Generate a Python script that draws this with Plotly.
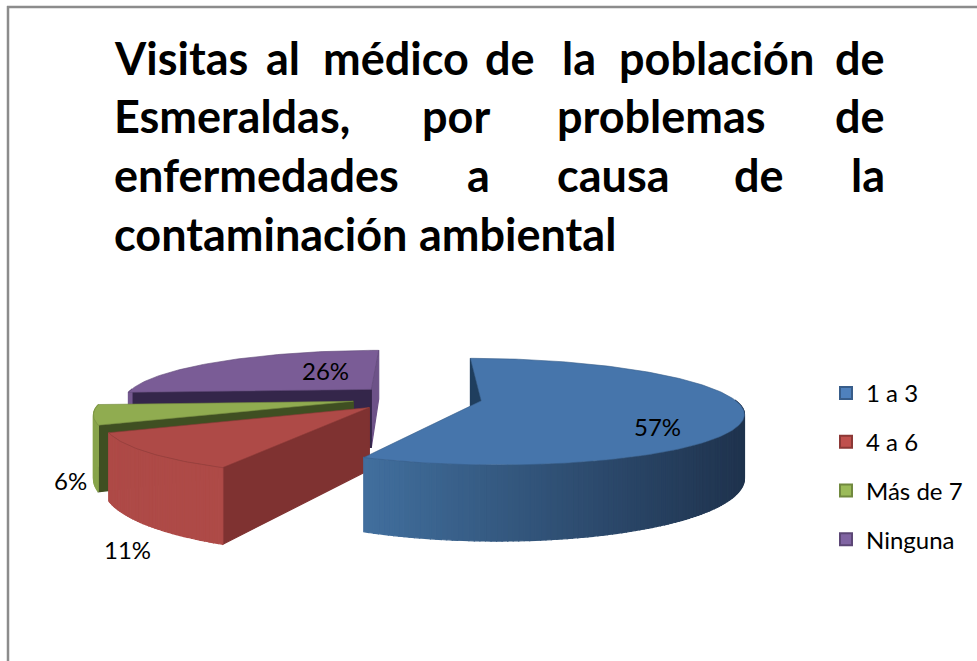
import math
import plotly.graph_objects as go

# ---- data ----
categories = ["1 a 3", "4 a 6", "Más de 7", "Ninguna"]
values = [57, 11, 6, 26]

# ---- style ----
TOP = ["#4675AB", "#AE4A47", "#90AC50", "#7A5C96"]
RIM = ["#3E6A9C", "#AE4A47", "#88A44B", "#74588F"]
WALL_IN = ["#1F3E5E", "#7F3231", "#3F4F22", "#34264A"]
WALL_END = "#6D5288"
LEG_FILL = ["#4F81BD", "#C0504D", "#9BBB59", "#8064A2"]
LEG_LINE = ["#385D8A", "#8C3836", "#71893F", "#5C4776"]
LABEL_XY = [(657, 426), (127, 549), (70, 480), (325, 370)]

TITLE_FONT = "Lato"
TITLE_WORDS = [
    (58, [("Visitas", 115), ("al", 267), ("médico", 324), ("de", 486), ("la", 563), ("población", 620), ("de", 836)]),
    (116, [("Esmeraldas,", 115), ("por", 423), ("problemas", 558), ("de", 836)]),
    (175, [("enfermedades", 115), ("a", 468), ("causa", 558), ("de", 735), ("la", 852)]),
    (234, [("contaminación", 115), ("ambiental", 420)]),
]

# ---- projection of the exploded pie ----
CX, CY, R, A, K, B, DEPTH = 417, 398, 250, 50, 0.2, 0.005, 60
PULL = 0.26
START = 0.0


def project(U, V):
    s = 1 / (1 - K * V)
    return CX + R * U * s * (1 + B * U), CY + A * V * s, s


def unit(deg):
    a = math.radians(deg)
    return math.sin(a), -math.cos(a)


def lerp_hex(c1, c2, t):
    a = [int(c1[i:i + 2], 16) for i in (1, 3, 5)]
    b = [int(c2[i:i + 2], 16) for i in (1, 3, 5)]
    return "rgb(%d,%d,%d)" % tuple(round(p + (q - p) * t) for p, q in zip(a, b))


fig = go.Figure()


def poly(xs, ys, color, line=None, width=1.2):
    fig.add_trace(go.Scatter(
        x=xs + xs[:1], y=ys + ys[:1], mode="lines", fill="toself", fillcolor=color,
        line=dict(color=line or color, width=width), showlegend=False, hoverinfo="skip"))


# slice spans derived from the values
total = sum(values)
spans = []
ang = START
for v in values:
    spans.append((ang, ang + v / total * 360))
    ang += v / total * 360


def draw_slice(i):
    a0, a1 = spans[i]
    mid = (a0 + a1) / 2
    du, dv = unit(mid)
    cu, cv = du * PULL, dv * PULL
    n = max(12, int(a1 - a0))
    angs = [a0 + (a1 - a0) * j / n for j in range(n + 1)]
    rim = []
    front = []
    for t in angs:
        u, v = unit(t)
        rim.append(project(cu + u, cv + v))
        front.append(v)
    ax, ay, asc = project(cu, cv)

    def wall(p, color):
        poly([ax, p[0], p[0], ax], [ay, p[1], p[1] + DEPTH * p[2], ay + DEPTH * asc], color)

    # flat inner walls
    if i == 3:
        wall(rim[-1], WALL_END)
    wall(rim[0], WALL_IN[i])

    # outer wall, in strips so that the shading can run along the arc
    for j in range(n):
        p, q = rim[j], rim[j + 1]
        if front[j] < 0 and front[j + 1] < 0:
            continue
        if i == 0:
            tt = 1 - (p[0] - 359) / (743 - 359)
            col = lerp_hex("#1F334E", "#42709F", tt)
        else:
            col = RIM[i]
        poly([p[0], q[0], q[0], p[0]],
             [p[1], q[1], q[1] + DEPTH * q[2], p[1] + DEPTH * p[2]], col)

    # top face
    xs = [ax] + [p[0] for p in rim]
    ys = [ay] + [p[1] for p in rim]
    poly(xs, ys, TOP[i], line=lerp_hex(TOP[i], "#000000", 0.2), width=0.6)


for idx in (3, 2, 1, 0):
    draw_slice(idx)

# legend entries
for name, fc, lc in zip(categories, LEG_FILL, LEG_LINE):
    fig.add_trace(go.Scatter(
        x=[None], y=[None], mode="markers", name=name, legendgroup=name,
        marker=dict(symbol="square", size=16, color=fc, line=dict(color=lc, width=2))))

annotations = []
for y, words in TITLE_WORDS:
    for w, x in words:
        annotations.append(dict(
            x=x, y=y, text=w, xref="x", yref="y", xanchor="left", yanchor="middle",
            showarrow=False, xshift=-3,
            font=dict(family=TITLE_FONT, size=45, color="#000000", weight="bold")))
for v, (x, y) in zip(values, LABEL_XY):
    annotations.append(dict(
        x=x, y=y, text=f"{v}%", xref="x", yref="y", showarrow=False,
        font=dict(family="Lato", size=24, color="#000000")))

shapes = [
    dict(type="line", x0=7, x1=977, y0=7, y1=7, xref="x", yref="y", line=dict(color="#8C8C8C", width=2.5)),
    dict(type="line", x0=8, x1=8, y0=6, y1=661, xref="x", yref="y", line=dict(color="#8C8C8C", width=2.5)),
]

fig.update_layout(
    width=977, height=661, margin=dict(l=0, r=0, t=0, b=0),
    paper_bgcolor="#FFFFFF", plot_bgcolor="#FFFFFF",
    xaxis=dict(range=[0, 977], visible=False, fixedrange=True),
    yaxis=dict(range=[661, 0], visible=False, fixedrange=True),
    annotations=annotations, shapes=shapes,
    legend=dict(x=826 / 977, y=1 - 371 / 661, xanchor="left", yanchor="top", tracegroupgap=14.5,
                font=dict(family="Lato", size=24, color="#000000"), itemsizing="constant",
                bgcolor="rgba(0,0,0,0)", traceorder="grouped", itemwidth=30),
    showlegend=True,
)

fig.write_html("out.html", config={"displayModeBar": False},
               post_script="document.body.style.margin='0';document.documentElement.style.overflow='hidden';")
